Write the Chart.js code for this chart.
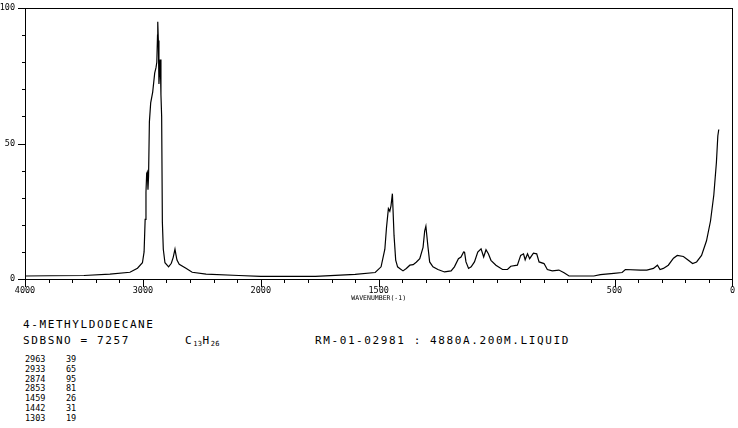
<!DOCTYPE html>
<html lang="en">
<head>
<meta charset="UTF-8" />
<title>4-METHYLDODECANE Raman</title>
<script src="https://cdn.jsdelivr.net/npm/chart.js"></script>
<style>
  body { margin: 0; background: #fff; }
  #wrap { position: relative; width: 738px; height: 428px; overflow: hidden; font-family: "DejaVu Sans Mono", monospace; color: #000; }
  #chartBox { position: absolute; left: 0; top: 0; width: 738px; height: 305px; }
  .txt { position: absolute; white-space: pre; line-height: 1; }
  .big { font-size: 11px; letter-spacing: 1.6px; }
  .small { font-size: 8.5px; letter-spacing: 0px; }
  .sub { font-size: 7px; letter-spacing: 0.4px; vertical-align: -2px; }
</style>
</head>
<body>
<div id="wrap">
  <div id="chartBox"><canvas id="spec"></canvas></div>
  <div class="txt big" style="left:23px; top:319px;">4-METHYLDODECANE</div>
  <div class="txt big" style="left:23px; top:335px;">SDBSNO = 7257</div>
  <div class="txt big" style="left:185px; top:335px;">C<span class="sub">13</span>H<span class="sub">26</span></div>
  <div class="txt big" style="left:315px; top:335px;">RM-01-02981 : 4880A.200M.LIQUID</div>
  <div id="peaks"></div>
</div>

<script>
  // spectrum (cm-1, intensity)
  const wavenumber = [4000, 3790, 3500, 3280, 3110, 3046, 3004, 2990, 2981, 2974, 2968, 2963, 2957, 2952, 2945, 2934,
    2917, 2900, 2889, 2882, 2876, 2874, 2869, 2864, 2859, 2853, 2847, 2841, 2835, 2827, 2813, 2782, 2759, 2743, 2728,
    2720, 2711, 2692, 2635, 2582, 2464, 2186, 2000, 1882, 1768, 1600, 1515, 1490, 1474, 1467, 1459, 1453, 1448, 1442,
    1435, 1428, 1420, 1411, 1397, 1383, 1368, 1354, 1341, 1326, 1312, 1305, 1300, 1291, 1284, 1270, 1249, 1221, 1193,
    1179, 1162, 1151, 1140, 1136, 1130, 1119, 1108, 1094, 1080, 1066, 1055, 1045, 1035, 1024, 1003, 975, 954, 940, 912,
    898, 886, 879, 869, 860, 844, 830, 820, 799, 785, 764, 736, 714, 693, 644, 588, 560, 503, 468, 454, 391, 363, 335,
    318, 307, 293, 272, 250, 234, 208, 187, 169, 152, 131, 110, 93, 79, 68, 62, 58];
  const intensity = [1.1, 1.2, 1.3, 1.8, 2.5, 4.0, 6.0, 10, 22, 32, 39, 39.5, 33, 38, 58, 65,
    69, 76, 78, 80, 90, 95, 88, 72, 76, 81, 68, 60, 21, 11, 6, 4.5, 5.8, 8, 11,
    9, 7, 5.4, 4, 2.5, 1.8, 1.3, 1.0, 1.0, 1.0, 1.7, 2.4, 4.5, 11, 19, 26, 25, 27, 31.5,
    16, 7, 4.5, 3.9, 3.0, 3.9, 5.1, 5.3, 6.2, 7.5, 11.7, 17.8, 19.5, 11.7, 6.3, 4.5, 3.5, 2.6, 3.0,
    4.5, 7.5, 8.1, 10, 9.9, 6.3, 3.9, 4.5, 6.3, 9.9, 11.1, 8.1, 10.8, 9.3, 6.9, 5.1, 3.5, 3.5, 4.7, 5.1,
    8.7, 9.3, 7.1, 9.3, 7.5, 9.5, 9.3, 6.3, 5.7, 3.5, 3.0, 3.3, 2.3, 1.1, 1.1, 1.1, 1.6, 2.1, 2.4, 3.5, 3.3, 3.3, 3.9,
    5.1, 3.5, 3.9, 5.1, 7.7, 8.7, 8.3, 6.9, 5.7, 6.3, 8.7, 14.1, 21.4, 31, 43, 52.8, 55.2];

  // peak table printed under the chart
  const peakWavenumbers = [2963, 2933, 2874, 2853, 1459, 1442, 1303];
  const peakHeights = [39, 65, 95, 81, 26, 31, 19];

  // axis ticks
  const xTicks = [4000, 3800, 3600, 3400, 3200, 3000, 2800, 2600, 2400, 2200, 2000,
    1900, 1800, 1700, 1600, 1500, 1400, 1300, 1200, 1100, 1000, 900, 800, 700, 600, 500, 400, 300, 200, 100, 0];
  const xLabels = [4000, 3000, 2000, 1500, 500, 0];
  const yTicks = [0, 10, 20, 30, 40, 50, 60, 70, 80, 90, 100];
  const yLabels = [0, 50, 100];

  // x axis: 4000-2000 takes one third of the width, 2000-0 two thirds
  const X_HI = 4000, X_BREAK = 2000;
  class SplitScale extends Chart.LinearScale {
    getPixelForValue(v) {
      const d = v >= X_BREAK
        ? (X_HI - v) / (X_HI - X_BREAK) / 3
        : 1 / 3 + (X_BREAK - v) / X_BREAK * 2 / 3;
      return this.getPixelForDecimal(d);
    }
    getValueForPixel(p) {
      const d = this.getDecimalForPixel(p);
      return d <= 1 / 3 ? X_HI - d * 3 * (X_HI - X_BREAK) : X_BREAK - (d - 1 / 3) * 1.5 * X_BREAK;
    }
  }
  SplitScale.id = 'split';
  SplitScale.defaults = Chart.LinearScale.defaults;
  Chart.register(SplitScale);

  // box around the plot plus outward tick marks, labelled ones longer
  const frameTicks = {
    id: 'frameTicks',
    afterDraw(chart) {
      const ctx = chart.ctx, a = chart.chartArea;
      const xs = chart.scales.x, ys = chart.scales.y;
      const L = Math.round(a.left), R = Math.round(a.right), T = Math.round(a.top), B = Math.round(a.bottom);
      ctx.save();
      ctx.fillStyle = '#000';
      ctx.fillRect(L, T, R - L + 1, 1);
      ctx.fillRect(L, B, R - L + 1, 1);
      ctx.fillRect(L, T, 1, B - T + 1);
      ctx.fillRect(R, T, 1, B - T + 1);
      xTicks.forEach(v => {
        const px = Math.min(Math.round(xs.getPixelForValue(v)), R);
        ctx.fillRect(px, B, 1, xLabels.includes(v) ? 8 : 4);
      });
      yTicks.forEach(v => {
        const py = Math.round(ys.getPixelForValue(v));
        const len = yLabels.includes(v) ? 7 : 3;
        ctx.fillRect(L - len, py, len, 1);
      });
      ctx.restore();
    }
  };

  const tickFont = { family: 'DejaVu Sans Mono', size: 8.5 };

  new Chart(document.getElementById('spec'), {
    type: 'line',
    data: {
      datasets: [{
        data: wavenumber.map((w, i) => ({ x: w, y: intensity[i] })),
        borderColor: '#000',
        borderWidth: 1.2,
        pointRadius: 0,
        tension: 0,
        fill: false
      }]
    },
    options: {
      responsive: true,
      maintainAspectRatio: false,
      animation: false,
      layout: { padding: { top: 3, right: 2, left: 0, bottom: 0 }, autoPadding: false },
      plugins: { legend: { display: false }, tooltip: { enabled: false } },
      scales: {
        x: {
          type: 'split',
          min: 0,
          max: 4000,
          border: { display: false },
          grid: { display: false, drawTicks: true, tickLength: 4 },
          afterBuildTicks: s => { s.ticks = xTicks.map(v => ({ value: v })); },
          afterFit: s => { s.height = 26; },
          ticks: {
            autoSkip: false,
            maxRotation: 0,
            padding: 3,
            color: '#000',
            font: tickFont,
            callback: v => xLabels.includes(v) ? String(v) : ''
          },
          title: {
            display: true,
            text: 'WAVENUMBER(-1)',
            color: '#000',
            font: { family: 'DejaVu Sans Mono', size: 6.5 },
            padding: { top: 0, bottom: 3 }
          }
        },
        y: {
          min: 0,
          max: 100,
          border: { display: false },
          grid: { display: false, drawTicks: true, tickLength: 7 },
          afterBuildTicks: s => { s.ticks = yTicks.map(v => ({ value: v })); },
          afterFit: s => { s.width = 25; },
          ticks: {
            autoSkip: false,
            padding: 3,
            color: '#000',
            font: tickFont,
            callback: v => yLabels.includes(v) ? String(v) : ''
          }
        }
      }
    },
    plugins: [frameTicks]
  });

  // peak list
  const peaksBox = document.getElementById('peaks');
  peakWavenumbers.forEach((w, i) => {
    const top = 355 + i * 9.8;
    peaksBox.insertAdjacentHTML('beforeend',
      `<div class="txt small" style="left:25px; top:${top}px;">${w}</div>` +
      `<div class="txt small" style="left:66px; top:${top}px;">${peakHeights[i]}</div>`);
  });
</script>
</body>
</html>
